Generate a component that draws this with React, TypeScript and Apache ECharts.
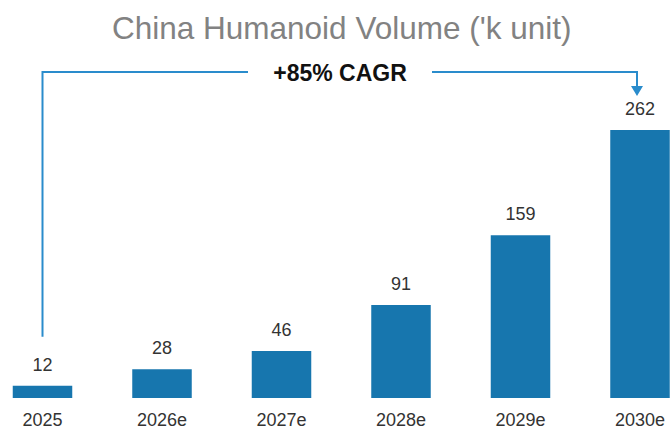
import React, { useEffect, useRef } from "react";
import * as echarts from "echarts";

const categories = ["2025", "2026e", "2027e", "2028e", "2029e", "2030e"];
const volumes = [12, 28, 46, 91, 159, 262];
const titleText = "China Humanoid Volume ('k unit)";
const cagrText = "+85% CAGR";

export default function App() {
  const ref = useRef<HTMLDivElement>(null);
  useEffect(() => {
    document.body.style.margin = "0";
    const chart = echarts.init(ref.current!, null, { renderer: "svg" });
    chart.setOption({
      animation: false,
      title: {
        text: titleText,
        left: 107,
        top: 7,
        textStyle: { color: "#828282", fontSize: 31.5, fontWeight: "normal", fontFamily: "Liberation Sans, Arial, sans-serif" },
      },
      grid: { left: 42.5, right: 30, top: 91, bottom: 34 },
      xAxis: {
        type: "category",
        data: categories,
        boundaryGap: false,
        axisLine: { show: false },
        axisTick: { show: false },
        axisLabel: { color: "#333", fontSize: 18, margin: 13, fontFamily: "Liberation Sans, Arial, sans-serif" },
      },
      yAxis: { type: "value", min: 0, max: 300, show: false, splitLine: { show: false } },
      series: [
        {
          type: "bar",
          data: volumes,
          barWidth: 59.5,
          itemStyle: { color: "#1776ae" },
          label: {
            show: true,
            position: "top",
            distance: 12,
            color: "#333",
            fontSize: 18,
            fontFamily: "Liberation Sans, Arial, sans-serif",
          },
        },
      ],
    });
    const p0 = chart.convertToPixel({ seriesIndex: 0 }, [0, volumes[0]]) as number[];
    const pN = chart.convertToPixel({ seriesIndex: 0 }, [volumes.length - 1, volumes[volumes.length - 1]]) as number[];
    const lineY = 72;
    const midX = 340;
    const lineColor = "#2a8ccc";
    const tipY = pN[1] - 34;
    chart.setOption({
      graphic: [
        {
          type: "polyline",
          shape: { points: [[p0[0], p0[1] - 49], [p0[0], lineY], [248, lineY]] },
          style: { stroke: lineColor, lineWidth: 2, fill: null },
        },
        {
          type: "polyline",
          shape: { points: [[432, lineY], [pN[0] - 3, lineY], [pN[0] - 3, tipY - 9]] },
          style: { stroke: lineColor, lineWidth: 2, fill: null },
        },
        {
          type: "polygon",
          shape: { points: [[pN[0] - 9, tipY - 10], [pN[0] + 3, tipY - 10], [pN[0] - 3, tipY]] },
          style: { fill: lineColor },
        },
        {
          type: "text",
          x: midX,
          y: lineY + 1,
          style: {
            text: cagrText,
            fill: "#111",
            font: "bold 23px 'Liberation Sans', Arial, sans-serif",
            align: "center",
            verticalAlign: "middle",
          },
        },
      ],
    });
    return () => chart.dispose();
  }, []);
  return <div ref={ref} style={{ width: 670, height: 432 }} />;
}
